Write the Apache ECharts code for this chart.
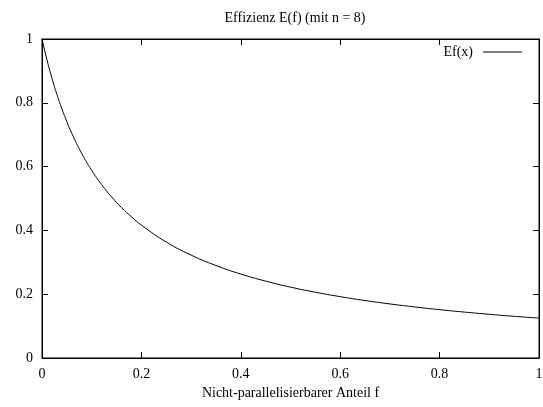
<!DOCTYPE html>
<html>
<head>
<meta charset="utf-8">
<script src="https://cdn.jsdelivr.net/npm/echarts@6/dist/echarts.min.js"></script>
<style>
  html, body { margin: 0; padding: 0; background: #fff; }
  #chart { width: 543px; height: 407px; }
</style>
</head>
<body>
<div id="chart"></div>
<script>
// anteil f (x) and effizienz E(f) (y)
const fValues = [0, 0.01, 0.02, 0.03, 0.04, 0.05, 0.06, 0.08, 0.1, 0.12, 0.14, 0.16, 0.18, 0.2,
  0.25, 0.3, 0.35, 0.4, 0.45, 0.5, 0.55, 0.6, 0.65, 0.7, 0.75, 0.8, 0.85, 0.9, 0.95, 1];
const effValues = [1, 0.9346, 0.8772, 0.8264, 0.7813, 0.7407, 0.7042, 0.641, 0.5882, 0.5435, 0.5051,
  0.4717, 0.4425, 0.4167, 0.3636, 0.3226, 0.2899, 0.2632, 0.241, 0.2222, 0.2062, 0.1923, 0.1802,
  0.1695, 0.16, 0.1515, 0.1439, 0.137, 0.1307, 0.125];

const font = "'Liberation Serif', 'DejaVu Serif', serif";
const fontSize = 14;
var myChart = echarts.init(document.getElementById("chart"));

//axis look shared by all four sides (gnuplot style border + inward ticks)
function axisBase(showLabels) {
  return {
    type: "value",
    min: 0,
    max: 1,
    interval: 0.2,
    axisLine: { show: true, onZero: false, lineStyle: { color: "#000", width: 1 } },
    axisTick: { show: true, inside: true, length: 6, lineStyle: { color: "#000", width: 1 } },
    splitLine: { show: false },
    axisLabel: {
      show: showLabels,
      margin: 9,
      color: "#000",
      fontFamily: font,
      fontSize: fontSize,
      formatter: function (v) { return String(Math.round(v * 10) / 10); },
    },
  };
}

var option = {
  animation: false,
  backgroundColor: "#fff",
  title: {
    text: "Effizienz E(f) (mit n = 8)",
    left: 290,
    textAlign: "center",
    top: 6,
    textStyle: { color: "#000", fontFamily: font, fontSize: fontSize, fontWeight: "normal" },
  },
  legend: {
    data: ["Ef(x)"],
    right: 16,
    top: 40,
    align: "right",
    icon: "rect",
    itemWidth: 39,
    itemHeight: 1,
    itemGap: 10,
    textStyle: { color: "#000", fontFamily: font, fontSize: fontSize, padding: [0, 5, 0, 0] },
  },
  grid: {
    left: 42, right: 4, top: 39, bottom: 49,
    containLabel: false,
    outerBoundsMode: "none",
    show: true, borderColor: "#000", borderWidth: 1,
  },
  xAxis: [
    Object.assign(axisBase(true), {
      position: "bottom",
      name: "Nicht-parallelisierbarer Anteil f",
      nameLocation: "middle",
      nameGap: 26,
      nameTextStyle: { color: "#000", fontFamily: font, fontSize: fontSize },
    }),
    Object.assign(axisBase(false), { position: "top" }),
  ],
  yAxis: [
    Object.assign(axisBase(true), { position: "left" }),
    Object.assign(axisBase(false), { position: "right" }),
  ],
  series: [
    {
      name: "Ef(x)",
      type: "line",
      smooth: true,
      showSymbol: false,
      symbol: "none",
      lineStyle: { color: "#000", width: 1 },
      itemStyle: { color: "#000" },
      data: fValues.map((f, i) => [f, effValues[i]]),
    },
    {
      //invisible copy so the mirrored top/right axes get drawn
      name: "mirror",
      type: "line",
      xAxisIndex: 1,
      yAxisIndex: 1,
      silent: true,
      showSymbol: false,
      symbol: "none",
      lineStyle: { opacity: 0 },
      data: fValues.map((f, i) => [f, effValues[i]]),
    },
  ],
};

myChart.setOption(option);
</script>
</body>
</html>
